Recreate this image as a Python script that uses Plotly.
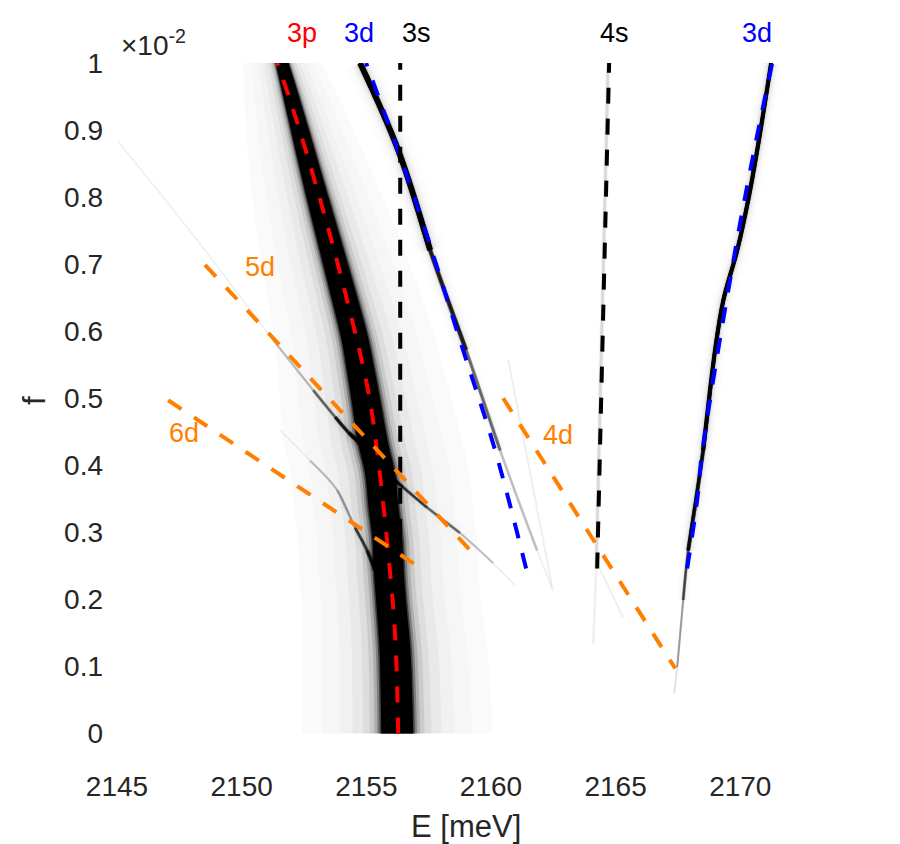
import numpy as np
import plotly.graph_objects as go

# ── axis ticks ───────────────────────────────────────────────────────────────
x_ticks = [2145, 2150, 2155, 2160, 2165, 2170]
y_ticks = [0, 0.1, 0.2, 0.3, 0.4, 0.5, 0.6, 0.7, 0.8, 0.9, 1.0]
y_tick_text = ["0", "0.1", "0.2", "0.3", "0.4", "0.5", "0.6", "0.7", "0.8", "0.9", "1"]

# ── spectral branches (f in units of 1e-2, E in meV) ─────────────────────────
# w = half width of the dark core [meV], s = darkness of the line (0..1)
f_3p = [1.0, 0.945, 0.796, 0.646, 0.587, 0.537, 0.487, 0.437, 0.388, 0.337, 0.288, 0.239, 0.199, 0.124, 0.0]
E_3p = [2151.62, 2152.02, 2153.07, 2154.15, 2154.55, 2154.80, 2155.03, 2155.25, 2155.55, 2155.69,
        2155.85, 2155.91, 2155.99, 2156.15, 2156.24]
w_3p = [0.26, 0.32, 0.44, 0.52, 0.54, 0.56, 0.58, 0.60, 0.60, 0.60, 0.60, 0.60, 0.60, 0.62, 0.64]

f_3dl = [1.0, 0.870, 0.721, 0.572, 0.422, 0.273, 0.213]
E_3dl = [2154.75, 2156.28, 2157.56, 2159.00, 2160.37, 2161.85, 2162.50]
w_3dl = [0.15, 0.13, 0.11, 0.08, 0.06, 0.05, 0.04]
s_3dl = [1, 1, 1, 0.7, 0.4, 0.2, 0.05]

f_3dr = [1.0, 0.870, 0.796, 0.721, 0.646, 0.572, 0.422, 0.273, 0.199, 0.099, 0.060]
E_3dr = [2171.24, 2170.68, 2170.32, 2169.88, 2169.32, 2168.99, 2168.51, 2167.91, 2167.71, 2167.47, 2167.35]
w_3dr = [0.13, 0.12, 0.12, 0.11, 0.10, 0.10, 0.08, 0.07, 0.05, 0.04, 0.03]
s_3dr = [1, 1, 1, 1, 1, 1, 1, 0.9, 0.55, 0.25, 0.08]

f_4s = [1.0, 0.246, 0.134]
E_4s = [2164.70, 2164.22, 2164.10]
w_4s = [0.07, 0.07, 0.05]
s_4s = [0.08, 0.07, 0.03]

f_5d = [0.885, 0.736, 0.587, 0.512, 0.472, 0.448, 0.433]
E_5d = [2145.00, 2148.21, 2151.26, 2152.87, 2153.75, 2154.31, 2154.75]
w_5d = [0.035, 0.04, 0.045, 0.05, 0.06, 0.07, 0.07]
s_5d = [0.03, 0.06, 0.15, 0.4, 0.7, 0.9, 1.0]

f_5d_b = [0.388, 0.367, 0.337, 0.299, 0.254, 0.221]
E_5d_b = [2155.83, 2156.48, 2157.44, 2158.76, 2160.09, 2160.97]
w_5d_b = [0.07, 0.06, 0.05, 0.05, 0.04, 0.04]
s_5d_b = [0.8, 0.7, 0.55, 0.4, 0.2, 0.05]

f_6d = [0.452, 0.407, 0.363, 0.307, 0.273, 0.243]
E_6d = [2151.54, 2152.74, 2153.83, 2154.55, 2155.03, 2155.35]
w_6d = [0.035, 0.04, 0.045, 0.055, 0.07, 0.08]
s_6d = [0.05, 0.15, 0.3, 0.55, 0.8, 1.0]

f_4d = [0.557, 0.218]
E_4d = [2160.69, 2162.46]
w_4d = [0.04, 0.04]
s_4d = [0.05, 0.04]

f_4s_b = [0.254, 0.173]
E_4s_b = [2164.26, 2165.30]
w_4s_b = [0.04, 0.04]
s_4s_b = [0.06, 0.04]

# ── model lines (dashed) ─────────────────────────────────────────────────────
line_3p_f = [0.0, 0.143, 0.273, 0.422, 0.512, 0.646, 0.796, 0.945, 1.0]
line_3p_E = [2156.28, 2156.16, 2155.87, 2155.43, 2155.07, 2154.23, 2153.15, 2151.94, 2151.42]
line_3dl_f = [0.246, 0.422, 0.572, 0.796, 1.0]
line_3dl_E = [2161.41, 2160.17, 2158.88, 2156.96, 2154.99]
line_3dr_f = [0.246, 0.348, 0.422, 0.721, 0.870, 1.0]
line_3dr_E = [2167.87, 2168.27, 2168.48, 2169.80, 2170.56, 2171.28]
line_3s_f = [0.25, 1.0]
line_3s_E = [2156.36, 2156.36]
line_4s_f = [0.246, 1.0]
line_4s_E = [2164.26, 2164.74]
line_5d_f = [0.699, 0.270]
line_5d_E = [2148.53, 2159.25]
line_6d_f = [0.497, 0.246]
line_6d_E = [2147.05, 2157.20]
line_4d_f = [0.500, 0.097]
line_4d_E = [2160.49, 2167.39]

# ── labels ───────────────────────────────────────────────────────────────────
top_labels = ["3p", "3d", "3s", "4s", "3d"]
top_label_E = [2151.74, 2154.03, 2156.36, 2164.30, 2170.0]
top_label_colors = ["#ff0000", "#0000ff", "#000000", "#000000", "#0000ff"]
d_labels = ["5d", "6d", "4d"]
d_label_E = [2150.06, 2147.01, 2162.01]
d_label_f = [0.696, 0.448, 0.445]

X_RANGE = [2145, 2174]
Y_RANGE = [-0.05, 1.0]
MARGIN = dict(l=117, r=60, t=63, b=77)
WIDTH, HEIGHT = 900, 844
PX_PER_MEV = (WIDTH - MARGIN["l"] - MARGIN["r"]) / (X_RANGE[1] - X_RANGE[0])

FONT = "Liberation Sans, Arial, Helvetica, sans-serif"
TXT = "#262626"
ORANGE = "#ff8000"
DASH = "16px,15px"

# halo profile: width multiplier of the core and total darkness, outside -> core
HALO_M = [6.0, 4.7, 3.6, 2.8, 2.15, 1.72, 1.43, 1.24, 1.1, 1.0]
HALO_D = [0.02, 0.035, 0.055, 0.085, 0.13, 0.2, 0.32, 0.5, 0.75, 1.0]
LEVELS = [0.03, 0.07, 0.13, 0.22, 0.35, 0.5, 0.7, 0.9, 1.0]


def xp(e):
    return (e - X_RANGE[0]) / (X_RANGE[1] - X_RANGE[0])


def yp(f):
    return (f - Y_RANGE[0]) / (Y_RANGE[1] - Y_RANGE[0])


def layer_alphas():
    out, prev = [], 0.0
    for d in HALO_D:
        out.append(1 - (1 - d) / (1 - prev))
        prev = d
    return out


ALPHAS = layer_alphas()


def add_band(fig, E, f, w):
    """broad fully dark band: filled area between two smooth edges per halo layer"""
    E, f, w = (np.asarray(v, dtype=float) for v in (E, f, w))
    for m, a in zip(HALO_M, ALPHAS):
        fig.add_trace(go.Scatter(x=E - m * w, y=f, mode="lines",
                                 line=dict(width=0, shape="spline"),
                                 hoverinfo="skip", showlegend=False))
        fig.add_trace(go.Scatter(x=E + m * w, y=f, mode="lines", fill="tonexty",
                                 fillcolor=f"rgba(0,0,0,{a:.4f})",
                                 line=dict(width=0, shape="spline"),
                                 hoverinfo="skip", showlegend=False))


def add_line(fig, E, f, w, s):
    """thin line whose darkness changes along it: stacked smooth strokes"""
    E, f, w, s = (np.asarray(v, dtype=float) for v in (E, f, w, s))
    prev = 0.0
    for t in LEVELS:
        idx = np.where(s >= t - 1e-9)[0]
        if len(idx) < 2:
            break
        sl = slice(idx[0], idx[-1] + 1)
        core_w = 2 * w[sl].min() * PX_PER_MEV
        a_core = 1 - (1 - t) / (1 - prev)
        for m, a in zip(HALO_M, ALPHAS):
            alpha = a_core if m == 1.0 else a * (t - prev)
            fig.add_trace(go.Scatter(x=E[sl], y=f[sl], mode="lines",
                                     line=dict(color=f"rgba(0,0,0,{min(alpha, 1):.4f})",
                                               width=max(core_w * m, 0.5), shape="spline"),
                                     hoverinfo="skip", showlegend=False))
        prev = t


fig = go.Figure()

add_band(fig, E_3p, f_3p, w_3p)
for br in [
    (E_3dl, f_3dl, w_3dl, s_3dl),
    (E_3dr, f_3dr, w_3dr, s_3dr),
    (E_4s, f_4s, w_4s, s_4s),
    (E_5d, f_5d, w_5d, s_5d),
    (E_5d_b, f_5d_b, w_5d_b, s_5d_b),
    (E_6d, f_6d, w_6d, s_6d),
    (E_4d, f_4d, w_4d, s_4d),
    (E_4s_b, f_4s_b, w_4s_b, s_4s_b),
]:
    add_line(fig, *br)

model_lines = [
    (line_3p_E, line_3p_f, "#ff0000"),
    (line_3dl_E, line_3dl_f, "#0000ff"),
    (line_3dr_E, line_3dr_f, "#0000ff"),
    (line_3s_E, line_3s_f, "#000000"),
    (line_4s_E, line_4s_f, "#000000"),
    (line_5d_E, line_5d_f, ORANGE),
    (line_6d_E, line_6d_f, ORANGE),
    (line_4d_E, line_4d_f, ORANGE),
]
for xs, ys, c in model_lines:
    fig.add_trace(go.Scatter(x=xs, y=ys, mode="lines",
                             line=dict(color=c, width=4, dash=DASH, shape="spline"),
                             hoverinfo="skip", showlegend=False))

annotations = []
for t, e, c in zip(top_labels, top_label_E, top_label_colors):
    annotations.append(dict(x=xp(e), y=yp(1.045), xref="paper", yref="paper", text=t,
                            showarrow=False, xanchor="left", yanchor="middle",
                            font=dict(size=27, color=c)))
for t, e, fv in zip(d_labels, d_label_E, d_label_f):
    annotations.append(dict(x=xp(e), y=yp(fv), xref="paper", yref="paper", text=t,
                            showarrow=False, xanchor="left", yanchor="middle",
                            font=dict(size=27, color=ORANGE)))
annotations += [
    dict(x=xp(2145.1), y=yp(1.03), xref="paper", yref="paper", text="×10<sup>-2</sup>",
         showarrow=False, xanchor="left", yanchor="middle", font=dict(size=28, color=TXT)),
    dict(x=xp(2159.0), y=yp(-0.139), xref="paper", yref="paper", text="E [meV]",
         showarrow=False, xanchor="center", yanchor="middle", font=dict(size=31, color=TXT)),
    dict(x=xp(2141.7), y=yp(0.497), xref="paper", yref="paper", text="f", textangle=-90,
         showarrow=False, xanchor="center", yanchor="middle", font=dict(size=31, color=TXT)),
]

fig.update_layout(
    width=WIDTH, height=HEIGHT,
    margin=MARGIN,
    plot_bgcolor="white", paper_bgcolor="white",
    showlegend=False,
    font=dict(family=FONT, size=28, color=TXT),
    annotations=annotations,
)
fig.update_xaxes(range=X_RANGE, tickvals=x_ticks, ticks="", showgrid=False, automargin=False,
                 zeroline=False, showline=False, tickfont=dict(size=28, color=TXT))
fig.update_yaxes(range=Y_RANGE, tickvals=y_ticks, ticktext=y_tick_text, ticks="", automargin=False,
                 showgrid=False, zeroline=False, showline=False, ticklabelstandoff=13,
                 tickfont=dict(size=28, color=TXT))

# page has a default 8px body margin; drop it so the figure sits at the window corner
fig.write_html("out.html", config={"displayModeBar": False},
               post_script="document.body.style.margin='0';")
